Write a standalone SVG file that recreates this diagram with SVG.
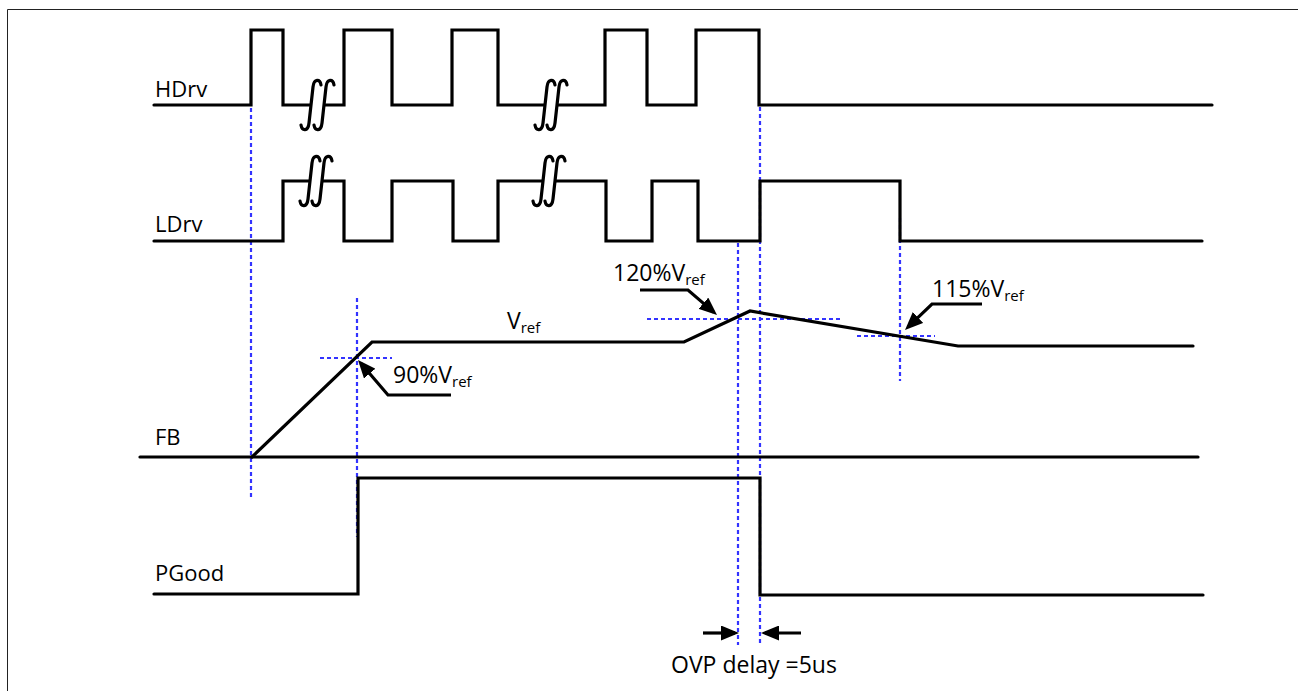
<svg xmlns="http://www.w3.org/2000/svg" xmlns:xlink="http://www.w3.org/1999/xlink" width="1298" height="691" viewBox="0 0 1298 691">
<style>
.sig{fill:none;stroke:#000;stroke-width:3.2;stroke-linejoin:miter;stroke-linecap:round}
.brk{fill:none;stroke:#000;stroke-width:3.2;stroke-linecap:round}
.guide{fill:none;stroke:#3333ff;stroke-width:2.2;stroke-dasharray:4 3}
.arr{fill:none;stroke:#000;stroke-width:3.2;stroke-linecap:butt;stroke-linejoin:miter}
.lbl{font-family:"Open Sans","Liberation Sans",sans-serif;font-size:22px;fill:#000}
.ann{font-family:"Open Sans","Liberation Sans",sans-serif;font-size:23px;fill:#000}
.sub{font-size:15px}
</style>
<defs>
<marker id="ah" markerUnits="userSpaceOnUse" markerWidth="18" markerHeight="15" viewBox="0 0 18 15" refX="14" refY="7.5" orient="auto">
<path d="M0,0 L18,7.5 L0,15 z" fill="#000"/>
</marker>
<path id="bm" d="M10,-20 C9,-26 3,-27 2,-18 L-2,18 C-3,27 -9,26 -10,20" class="brk"/>
</defs>
<rect width="1298" height="691" fill="#fff"/>
<path d="M7.5,691 V9.5 H1298" fill="none" stroke="#222" stroke-width="1"/>

<g id="guides">
<line class="guide" x1="251" y1="108" x2="251" y2="498"/>
<line class="guide" x1="357" y1="298" x2="357" y2="537"/>
<line class="guide" x1="320" y1="358" x2="392" y2="358"/>
<line class="guide" x1="738" y1="243" x2="738" y2="645"/>
<line class="guide" x1="760" y1="107" x2="760" y2="645"/>
<line class="guide" x1="647" y1="319" x2="843" y2="319"/>
<line class="guide" x1="900" y1="218" x2="900" y2="381"/>
<line class="guide" x1="857" y1="336" x2="935" y2="336"/>
</g>

<g id="HDrv">
<text class="lbl" x="155" y="97">HDrv</text>
<path class="sig" d="M154,105 H251 V30 H283 V105 H310"/>
<path class="sig" d="M325,105 H344 V30 H392 V105 H452 V30 H498 V105 H544"/>
<path class="sig" d="M558,105 H605 V30 H647 V105 H696 V30 H759 V105 H1212"/>
<use xlink:href="#bm" x="311" y="105"/>
<use xlink:href="#bm" x="324" y="105"/>
<use xlink:href="#bm" x="545" y="105"/>
<use xlink:href="#bm" x="557" y="105"/>
</g>

<g id="LDrv">
<text class="lbl" x="155" y="232">LDrv</text>
<path class="sig" d="M154,241 H283 V181 H309"/>
<path class="sig" d="M323,181 H344 V241 H392 V181 H453 V241 H498 V181 H542"/>
<path class="sig" d="M556,181 H606 V241 H652 V181 H698 V241 H760 V181 H900 V241 H1202"/>
<use xlink:href="#bm" x="310" y="181"/>
<use xlink:href="#bm" x="322" y="181"/>
<use xlink:href="#bm" x="543" y="181"/>
<use xlink:href="#bm" x="555" y="181"/>
</g>

<g id="FB">
<text class="lbl" x="155" y="445">FB</text>
<path class="sig" d="M140,457 H1198"/>
<path class="sig" d="M252,457 L372,342 H684 L750,311 L958,346 H1193"/>
<text class="ann" x="507" y="329">V<tspan class="sub" dy="4">ref</tspan></text>
</g>

<g id="PGood">
<text class="lbl" x="155" y="581">PGood</text>
<path class="sig" d="M154,594 H358 V478 H760 V595 H1203"/>
</g>

<g id="annotations">
<path class="arr" d="M451,395 H388 L360.6,363" marker-end="url(#ah)"/>
<text class="ann" x="393" y="383">90%V<tspan class="sub" dy="4">ref</tspan></text>
<path class="arr" d="M640,290 H688 L714,312.4" marker-end="url(#ah)"/>
<text class="ann" x="613" y="281">120%V<tspan class="sub" dy="4">ref</tspan></text>
<path class="arr" d="M982,304 H932 L907.9,327.2" marker-end="url(#ah)"/>
<text class="ann" x="932" y="297">115%V<tspan class="sub" dy="4">ref</tspan></text>
<path class="arr" d="M703,633 H735" marker-end="url(#ah)"/>
<path class="arr" d="M801,633 H765" marker-end="url(#ah)"/>
<text class="ann" x="671" y="673">OVP delay =5us</text>
</g>
</svg>
